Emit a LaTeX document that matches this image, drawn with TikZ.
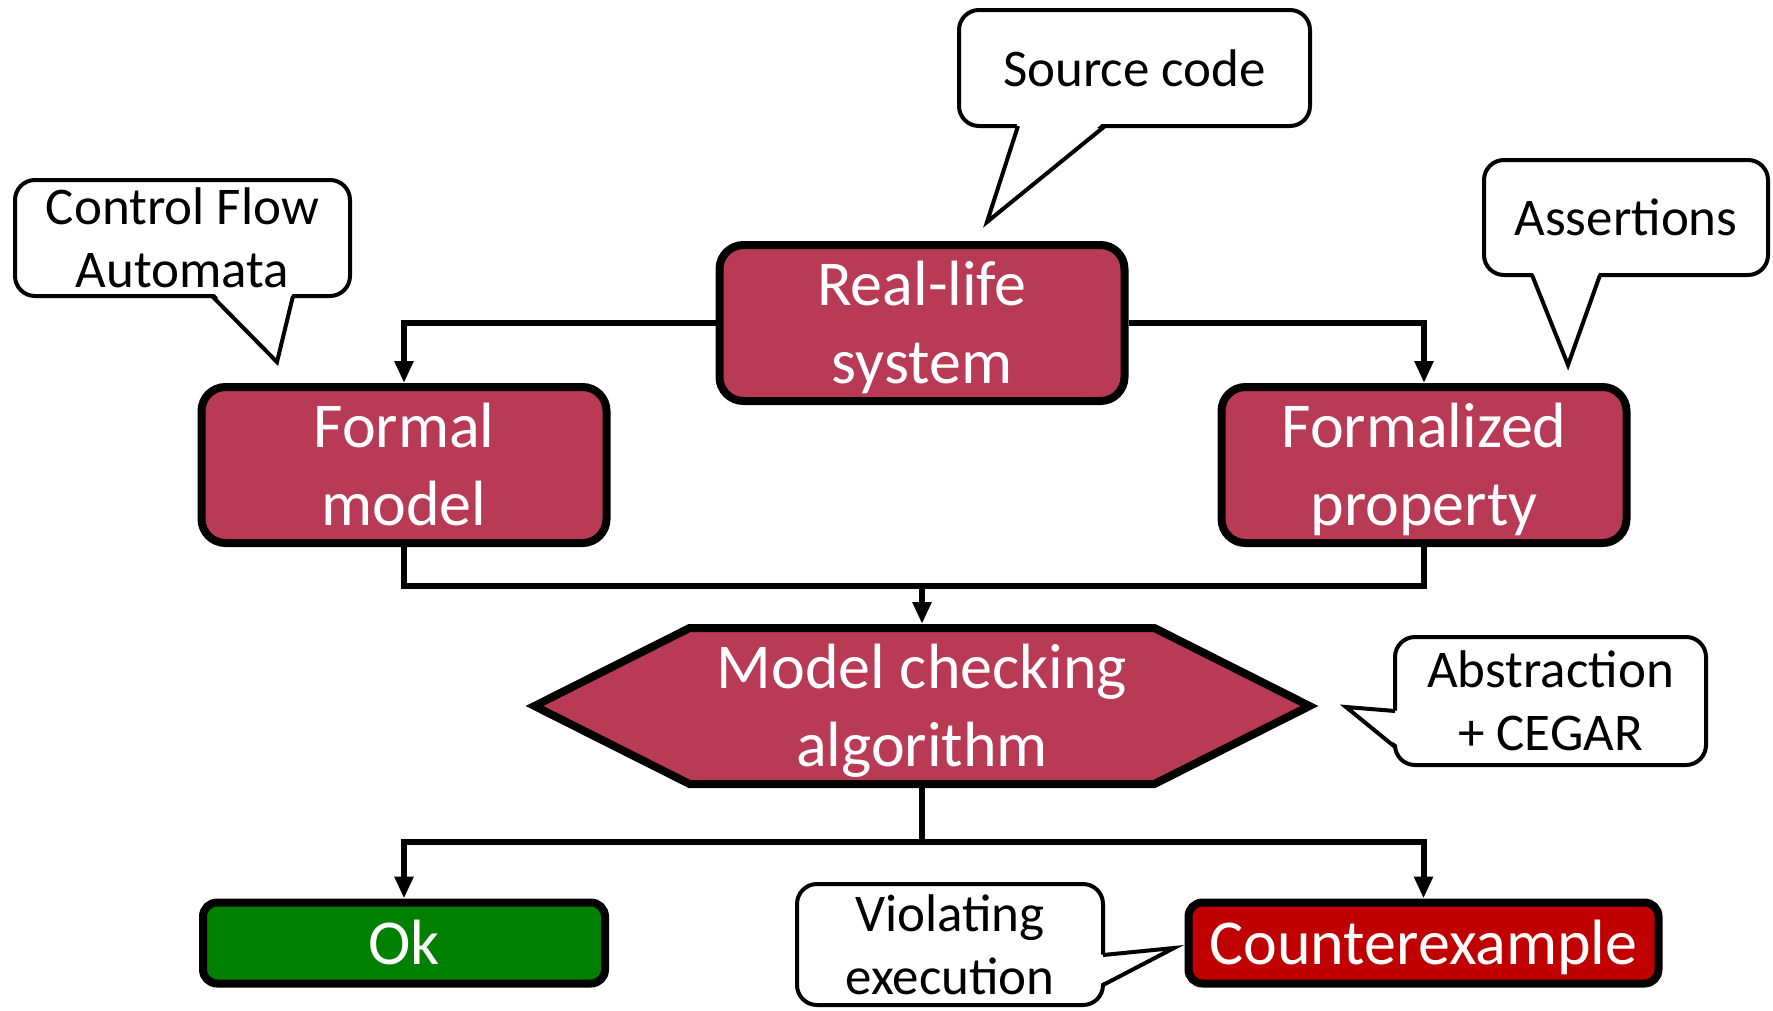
\documentclass[tikz,border=0pt]{standalone}
\usepackage{fontspec}
\setmainfont{Carlito}
\usetikzlibrary{arrows.meta,shapes.symbols}
\definecolor{boxred}{RGB}{185,58,85}
\definecolor{cexred}{RGB}{192,0,0}
\definecolor{okgreen}{RGB}{0,128,0}
\begin{document}
\begin{tikzpicture}[x=1pt,y=-1pt]
	\tikzset{basebox/.style={draw=black,line width=8pt,fill=boxred,text=white,font=\fontsize{64}{78}\selectfont,align=center,inner sep=0pt,execute at end node={\rule[-18pt]{0pt}{18pt}}},
		stepbox/.style={basebox,rounded corners=24pt,minimum width=405pt,minimum height=155pt,execute at begin node={\rule{0pt}{138pt}}},
		endbox/.style={basebox,rounded corners=14pt,minimum height=81pt,execute at begin node={\rule{0pt}{60pt}}},
		bubble/.style={draw=black,line width=4pt,rounded corners=20pt,fill=white,font=\fontsize{53}{63}\selectfont,align=center,inner sep=0pt},
		tail/.style={draw=black,line width=4pt,line join=miter},
		bus/.style={line width=6pt},
		conn/.style={bus,-{Triangle[length=22pt,width=18pt]}}}
	\useasboundingbox (0,0) rectangle (1773,1010);
	%Boxes
	\node[stepbox] (rl) at (922,323) {Real-life\\system};
	\node[stepbox] (fm) at (404,465) {Formal\\model};
	\node[stepbox] (fp) at (1424,465) {Formalized\\property};
	\node[stepbox,shape=signal,signal to=west and east,signal pointer angle=53.4,sharp corners,minimum width=775pt,minimum height=156pt] (mc) at (922,706) {Model checking\\algorithm};
	\node[endbox,fill=okgreen,minimum width=402pt] (ok) at (404,943) {Ok};
	\node[endbox,fill=cexred,minimum width=470pt] (cx) at (1423.5,943) {Counterexample};
	%Connectors
	\coordinate (j1) at (922,586);
	\coordinate (j2) at (922,842);
	\draw[conn] (rl.west) -| (fm.north);
	\draw[conn] (rl.east) -| (fp.north);
	\draw[bus] (fm.south) |- (j1) -| (fp.south);
	\draw[conn] (j1) -- (mc.north);
	\draw[bus] (mc.south) -- (j2);
	\draw[conn] (j2) -| (ok.north);
	\draw[conn] (j2) -| (cx.north);
	%Callouts
	\node[bubble,minimum width=351pt,minimum height=116pt] (src) at (1134.5,68) {Source code};
	\fill[white] (1018,121) -- (987,222) -- (1105,121) -- cycle;
	\draw[tail] (1018,126) -- (987,222) -- (1105,126);
	\node[bubble,minimum width=335pt,minimum height=116pt] (cfa) at (182.5,238) {Control Flow\\Automata};
	\fill[white] (212,291) -- (277,362) -- (293,291) -- cycle;
	\draw[tail] (212,296) -- (277,362) -- (293,296);
	\node[bubble,minimum width=284pt,minimum height=115pt] (asr) at (1626,217.5) {Assertions};
	\fill[white] (1532,270) -- (1568,365) -- (1600,270) -- cycle;
	\draw[tail] (1532,275) -- (1568,365) -- (1600,275);
	\node[bubble,minimum width=311pt,minimum height=128pt] (abs) at (1550.5,701) {Abstraction\\+ CEGAR};
	\fill[white] (1400,711) -- (1346,707) -- (1400,747) -- cycle;
	\draw[tail] (1395,711) -- (1346,707) -- (1395,747);
	\node[bubble,minimum width=306pt,minimum height=121pt] (vio) at (950,944.5) {Violating\\execution};
	\fill[white] (1098,955) -- (1174,948) -- (1098,985) -- cycle;
	\draw[tail] (1103,955) -- (1174,948) -- (1103,985);
\end{tikzpicture}
\end{document}
